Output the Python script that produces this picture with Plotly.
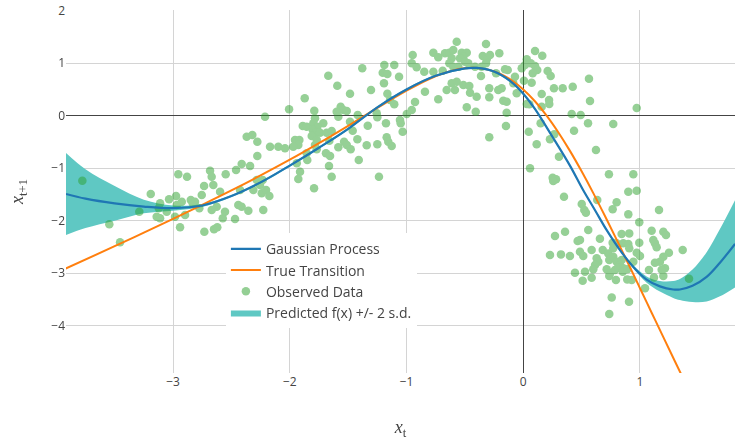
import plotly.graph_objects as go

# ---------------- data ----------------
obs_x = [
    -3.777, -3.546, -3.454, -3.289, -3.191, -3.111, -3.122, -3.140, -3.111, -3.054,
    -3.034, -2.974, -2.955, -2.880, -2.968, -2.925, -2.983, -2.897, -2.940, -2.848,
    -2.831, -2.812, -2.775, -2.754, -2.734, -2.732, -2.683, -2.669, -2.655, -2.649,
    -2.621, -2.669, -2.626, -2.597, -2.574, -2.555, -2.549, -2.460, -2.441, -2.412,
    -2.412, -2.469, -2.426, -2.355, -2.340, -2.312, -2.278, -2.283, -2.255, -2.232,
    -2.227, -2.240, -2.203, -2.175, -2.169, -2.098, -2.278, -2.041, -2.369, -2.321,
    -2.212, -2.006, -1.670, -1.379, -1.190, -1.105, -0.955, -1.204, -1.164, -1.064,
    -1.193, -1.593, -1.304, -1.484, -1.164, -1.872, -1.141, -1.105, -0.927, -1.790,
    -1.564, -1.541, -1.598, -1.512, -1.584, -1.418, -1.255, -1.250, -0.998, -0.955,
    -1.713, -1.784, -1.484, -1.176, -1.056, -1.050, -1.889, -1.855, -1.798, -1.764,
    -1.803, -1.775, -1.741, -1.812, -1.684, -1.641, -1.461, -1.332, -1.033, -1.955,
    -1.918, -1.927, -1.970, -1.769, -1.784, -1.661, -1.535, -1.512, -1.478, -1.421,
    -1.584, -1.341, -1.250, -1.170, -1.156, -1.127, -1.855, -1.850, -1.940, -1.769,
    -1.690, -1.655, -1.664, -1.409, -1.912, -1.927, -1.641, -1.792, -1.236, -0.947,
    -0.913, -0.848, -0.770, -0.728, -0.670, -0.633, -0.599, -0.570, -0.527, -0.484,
    -0.513, -0.542, -0.499, -0.471, -0.613, -0.633, -0.599, -0.556, -0.319, -0.347,
    -0.313, -0.285, -0.319, -0.205, -0.413, -0.356, -0.770, -0.690, -0.842, -0.728,
    -0.656, -0.613, -0.570, -0.585, -0.513, -0.462, -0.456, -0.399, -0.362, -0.291,
    -0.291, -0.233, -0.214, -0.185, -0.156, -0.133, -0.171, -0.142, -0.071, -0.085,
    -0.056, -0.484, -0.407, -0.142, -0.148, -0.291, 0.101, 0.163, 0.030, 0.064,
    0.101, 0.120, 0.081, 0.015, -0.013, 0.209, 0.235, 0.072, 0.006, 0.563,
    0.263, 0.338, 0.424, 0.158, 0.221, 0.223, 0.030, 0.052, 0.158, 0.572,
    0.972, 0.415, 0.492, 0.555, 0.771, 0.149, 0.047, 0.435, 0.229, 0.266,
    0.115, 0.623, 0.306, 0.058, 0.252, 0.281, 0.257, 0.734, 0.943, 0.349,
    0.501, 0.523, 0.537, 0.634, 0.766, 0.800, 0.900, 0.972, 0.900, 1.163,
    0.994, 0.272, 0.358, 0.557, 0.466, 0.486, 0.657, 0.843, 0.908, 1.100,
    1.200, 1.223, 0.229, 0.323, 0.400, 0.486, 0.514, 0.586, 0.681, 0.766,
    0.800, 0.857, 0.900, 0.908, 0.771, 0.728, 1.114, 1.128, 1.143, 0.994,
    0.972, 1.000, 1.248, 1.366, 1.200, 1.171, 1.128, 0.629, 0.643, 0.615,
    0.737, 0.771, 0.800, 0.843, 0.829, 0.943, 0.443, 0.529, 0.600, 0.715,
    0.743, 0.786, 0.814, 0.857, 0.852, 0.891, 0.509, 0.586, 0.737, 0.794,
    0.891, 0.929, 1.077, 1.120, 1.200, 1.214, 1.420, 1.043, 0.758, 0.906,
    0.737, 1.186,
]
obs_y = [
    -1.239, -2.069, -2.412, -1.829, -1.492, -1.669, -1.764, -1.924, -1.955, -1.829,
    -1.593, -1.530, -1.117, -1.162, -1.702, -1.639, -1.924, -1.892, -2.126, -1.606,
    -1.669, -1.639, -1.764, -1.511, -1.340, -2.210, -1.048, -1.162, -1.321, -2.164,
    -2.126, -1.797, -1.734, -1.448, -1.955, -1.829, -1.117, -1.035, -1.702, -1.734,
    -0.921, -1.968, -1.416, -1.810, -0.959, -1.416, -0.768, -1.225, -1.321, -1.225,
    -1.797, -1.479, -1.416, -1.530, -0.591, -0.591, -0.496, -0.622, -0.401, -0.368,
    -0.020, 0.121, 0.761, 0.902, 0.965, 0.965, 0.998, 0.818, 0.794, 0.742,
    0.617, 0.571, 0.489, 0.418, 0.418, 0.331, 0.298, 0.217, 0.260, 0.095,
    0.171, 0.108, 0.076, 0.089, -0.020, 0.013, 0.045, -0.031, 0.032, 0.108,
    -0.145, -0.050, -0.115, -0.145, -0.082, -0.145, -0.197, -0.210, -0.145, -0.210,
    -0.273, -0.324, -0.324, -0.387, -0.324, -0.292, -0.286, -0.191, -0.305, -0.463,
    -0.463, -0.559, -0.591, -0.463, -0.559, -0.477, -0.496, -0.559, -0.641, -0.450,
    -0.602, -0.564, -0.545, -0.412, -0.496, -0.578, -0.717, -0.844, -0.907, -0.641,
    -0.717, -0.768, -0.959, -0.844, -1.067, -1.206, -1.162, -1.383, -1.162, 1.156,
    0.921, 0.838, 1.199, 1.112, 1.188, 1.199, 1.251, 1.409, 1.199, 1.199,
    1.123, 1.093, 1.028, 0.998, 1.093, 0.998, 0.933, 0.933, 1.365, 1.137,
    1.074, 1.156, 0.998, 1.188, 0.933, 0.933, 0.838, 0.857, 0.457, 0.312,
    0.489, 0.617, 0.647, 0.489, 0.584, 0.565, 0.438, 0.361, 0.756, 0.521,
    0.350, 0.807, 0.489, 0.521, 0.883, 0.870, 0.285, 0.266, 0.742, 0.617,
    0.426, 0.159, 0.076, 0.057, -0.197, -0.412, 1.232, 1.142, 1.074, 0.998,
    0.946, 0.870, 0.807, 0.965, 0.902, 0.851, 0.756, 0.628, 0.666, 0.704,
    0.521, 0.521, 0.552, 0.413, 0.298, 0.222, 0.222, 0.217, 0.171, 0.279,
    0.146, 0.032, 0.013, -0.145, -0.159, -0.145, -0.305, -0.286, -0.450, -0.355,
    -0.545, -0.654, -0.782, -1.002, -1.182, -1.212, -1.244, -1.117, -1.117, -1.543,
    -1.682, -1.797, -1.848, -1.606, -1.783, -1.650, -1.448, -1.429, -1.879, -1.797,
    -2.031, -2.292, -2.210, -2.178, -2.387, -2.368, -2.343, -2.254, -2.241, -2.191,
    -2.210, -2.273, -2.654, -2.641, -2.673, -2.591, -2.673, -2.559, -2.559, -2.420,
    -2.431, -2.431, -2.444, -2.526, -2.526, -2.622, -2.368, -2.431, -2.507, -2.420,
    -2.610, -2.673, -2.610, -2.559, -2.686, -2.782, -2.801, -2.717, -2.782, -2.844,
    -2.749, -2.686, -2.782, -2.749, -2.844, -2.782, -2.991, -2.972, -2.926, -2.926,
    -3.002, -2.940, -2.888, -2.907, -2.972, -2.926, -3.143, -3.086, -3.054, -3.130,
    -3.117, -3.130, -2.940, -3.079, -3.054, -2.907, -3.105, -3.288, -3.460, -3.543,
    -3.778, -2.935,
]

# true transition curve
true_x = [-3.92, -3.5, -3.25, -3.0, -2.75, -2.5, -2.25, -2.0, -1.75, -1.5,
          -1.25, -1.0, -0.8, -0.6, -0.5, -0.4, -0.3, -0.2, -0.1, 0.0,
          0.1, 0.2, 0.3, 0.4, 0.5, 0.6, 0.7, 0.8, 0.9, 1.0,
          1.1, 1.2, 1.3, 1.4]
true_y = [-2.912, -2.485, -2.227, -1.965, -1.698, -1.424, -1.137, -0.838, -0.522, -0.192,
          0.148, 0.477, 0.704, 0.863, 0.904, 0.910, 0.877, 0.800, 0.675, 0.500,
          0.275, 0.003, -0.314, -0.670, -1.059, -1.474, -1.910, -2.360, -2.820, -3.285,
          -3.752, -4.218, -4.681, -5.141]

gp_x = [-3.917, -3.75, -3.5, -3.25, -3.0, -2.75, -2.5, -2.25, -2.0, -1.75,
        -1.5, -1.25, -1.0, -0.75, -0.5, -0.4, -0.25, -0.1, 0.0, 0.1,
        0.25, 0.4, 0.514, 0.615, 0.715, 0.829, 0.943, 1.057, 1.171, 1.285,
        1.342, 1.45, 1.571, 1.685, 1.814]
gp_mean = [-1.49, -1.58, -1.67, -1.73, -1.76, -1.71, -1.53, -1.27, -0.95, -0.61,
           -0.25, 0.16, 0.50, 0.76, 0.90, 0.91, 0.84, 0.64, 0.42, 0.13,
           -0.40, -0.95, -1.42, -1.80, -2.18, -2.56, -2.88, -3.12, -3.25, -3.31,
           -3.31, -3.24, -3.07, -2.80, -2.44]
gp_2sd = [0.78, 0.56, 0.33, 0.13, 0.05, 0.03, 0.02, 0.02, 0.02, 0.02,
          0.02, 0.02, 0.02, 0.02, 0.02, 0.02, 0.02, 0.02, 0.02, 0.02,
          0.02, 0.02, 0.02, 0.02, 0.02, 0.02, 0.03, 0.06, 0.10, 0.16,
          0.20, 0.31, 0.47, 0.64, 0.83]

x_ticks = [-3, -2, -1, 0, 1]
y_ticks = [2, 1, 0, -1, -2, -3, -4]

# ---------------- figure ----------------
gp_upper = [m + s for m, s in zip(gp_mean, gp_2sd)]
gp_lower = [m - s for m, s in zip(gp_mean, gp_2sd)]

fig = go.Figure()
fig.add_trace(go.Scatter(x=gp_x, y=gp_lower, mode="lines",
                         line=dict(width=0, shape="spline", color="rgba(0,0,0,0)"),
                         showlegend=False, hoverinfo="skip"))
fig.add_trace(go.Scatter(x=gp_x, y=gp_upper, mode="lines", fill="tonexty",
                         fillcolor="#5fc8c3",
                         line=dict(width=0, shape="spline", color="rgba(0,0,0,0)"),
                         name="Predicted f(x) +/- 2 s.d.", legendrank=4))
fig.add_trace(go.Scatter(x=obs_x, y=obs_y, mode="markers",
                         marker=dict(color="#2ca02c", size=8.5),
                         opacity=0.5, name="Observed Data", legendrank=3))
fig.add_trace(go.Scatter(x=true_x, y=true_y, mode="lines",
                         line=dict(color="#ff7f0e", width=2, shape="spline"),
                         name="True Transition", legendrank=2))
fig.add_trace(go.Scatter(x=gp_x, y=gp_mean, mode="lines",
                         line=dict(color="#1f77b4", width=2.2, shape="spline"),
                         name="Gaussian Process", legendrank=1))

axis_common = dict(showgrid=True, gridcolor="#d4d4d4", gridwidth=1,
                   zeroline=True, zerolinecolor="#444", zerolinewidth=1,
                   showline=False, ticks="", tickfont=dict(size=12, color="#444"))

fig.update_layout(
    width=735, height=440,
    margin=dict(l=66, r=0, t=10, b=67),
    paper_bgcolor="white", plot_bgcolor="white",
    font=dict(family="Open Sans", size=12, color="#444"),
    showlegend=True,
    legend=dict(x=0.239, y=0.385, xanchor="left", yanchor="top",
                bgcolor="white", font=dict(size=14), traceorder="normal"),
    xaxis=dict(range=[-3.917, 1.814], tickvals=x_ticks,
               title=dict(text="<i>x</i><sub>t</sub>",
                          font=dict(family="Liberation Serif", size=18, color="#444"),
                          standoff=34),
               **axis_common),
    yaxis=dict(range=[-4.9, 2.013], tickvals=y_ticks,
               title=dict(text="<i>x</i><sub>t+1</sub>",
                          font=dict(family="Liberation Serif", size=18, color="#444"),
                          standoff=22),
               **axis_common),
)

fig.write_html("out.html", config={"displayModeBar": False},
               post_script="document.body.style.margin='0px';")
